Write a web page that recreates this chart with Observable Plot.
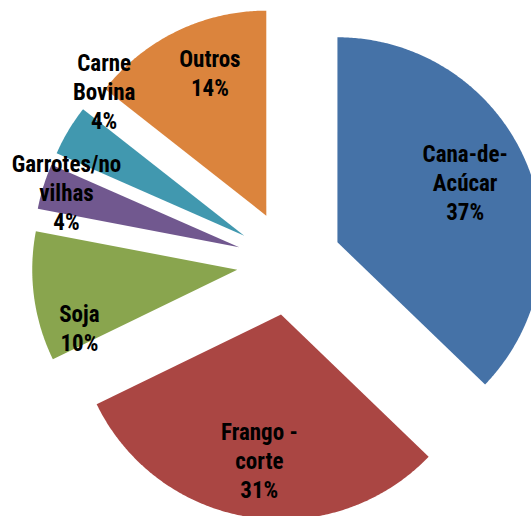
<!DOCTYPE html>
<html>
<head>
<meta charset="utf-8">
<script src="https://cdn.jsdelivr.net/npm/d3@7"></script>
<script src="https://cdn.jsdelivr.net/npm/@observablehq/plot@0.6"></script>
<style>
  html, body { margin: 0; padding: 0; background: #fff; overflow: hidden; }
</style>
</head>
<body>
<div id="chart"></div>
<script>
// ---- data ----
const categories = ["Cana-de-Acúcar", "Frango - corte", "Soja", "Garrotes/novilhas", "Carne Bovina", "Outros"];
const labelText = ["Cana-de-\nAcúcar", "Frango -\ncorte", "Soja", "Garrotes/no\nvilhas", "Carne\nBovina", "Outros"];
const values = [37.2, 30.6, 10.2, 3.6, 4.0, 14.4];
const colors = ["#4572A7", "#AA4643", "#89A54E", "#71588F", "#4198AF", "#DB843D"];

// ---- layout (not data) ----
const W = 531, H = 516;
const CX = 288.7, CY = 262.3, R = 205, EXPLODE = 52.4;
// label placement: [radius fraction from slice apex, angle nudge in degrees]
const labelLayout = [[0.69, -2.4], [0.715, -0.5], [0.82, -12.5], [0.885, 0.6], [0.985, 15.1], [0.75, 4.4]];

const pie = d3.pie().sort(null).value(d => d)(values);
const dir = a => [Math.sin(a), -Math.cos(a)];

const polyPts = [];
const labels = [];
pie.forEach((p, i) => {
  const mid = (p.startAngle + p.endAngle) / 2;
  const [mx, my] = dir(mid);
  const ax = CX + EXPLODE * mx, ay = CY + EXPLODE * my;
  polyPts.push({name: categories[i], x: ax, y: ay});
  const n = Math.max(4, Math.ceil((p.endAngle - p.startAngle) / (Math.PI / 360)));
  for (let k = 0; k <= n; k++) {
    const a = p.startAngle + (p.endAngle - p.startAngle) * k / n;
    const [dx, dy] = dir(a);
    polyPts.push({name: categories[i], x: ax + R * dx, y: ay + R * dy});
  }
  const [f, nudge] = labelLayout[i];
  const la = mid + nudge * Math.PI / 180;
  const [lx, ly] = dir(la);
  labels.push({
    text: labelText[i] + "\n" + Math.round(values[i]) + "%",
    x: ax + f * R * lx,
    y: ay + f * R * ly
  });
});

const chart = Plot.plot({
  width: W,
  height: H,
  margin: 0,
  x: {domain: [0, W], range: [0, W], axis: null},
  y: {domain: [0, H], range: [0, H], axis: null},
  color: {domain: categories, range: colors},
  marks: [
    Plot.line(polyPts, {x: "x", y: "y", z: "name", fill: "name", stroke: "none", curve: "linear-closed"}),
    Plot.text(labels, {
      x: "x", y: "y", text: "text",
      fontSize: 23, fontWeight: "bold",
      fontFamily: "'Liberation Sans Narrow', 'Arial Narrow', 'Roboto Condensed', sans-serif",
      lineHeight: 1.26, fill: "#000", textAnchor: "middle"
    })
  ]
});
document.getElementById("chart").appendChild(chart);
</script>
</body>
</html>
